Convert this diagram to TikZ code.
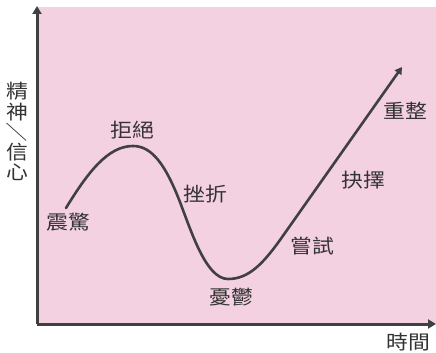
\documentclass[tikz,border=0pt]{standalone}
\usepackage{fontspec}
\newfontfamily\cjk{Noto Sans CJK TC}
\usetikzlibrary{arrows.meta}
\definecolor{bgpink}{RGB}{243,209,225}
\definecolor{axisgray}{RGB}{64,64,64}
\definecolor{txtgray}{RGB}{51,51,51}
\tikzset{
  lbl/.style={text=txtgray, font=\cjk\fontsize{19.5}{19.5}\selectfont, inner sep=0pt, xscale=1.12},
  axisline/.style={draw=axisgray, line width=3pt, -{Triangle[width=9pt,length=8pt]}},
  curveline/.style={draw=axisgray, line width=2.6pt, line cap=round, -{Triangle[width=8pt,length=7pt]}}
}
\begin{document}
\begin{tikzpicture}[x=1pt,y=-1pt]
\useasboundingbox (0,0) rectangle (436,353);
\fill[bgpink] (37,7) rectangle (436,324);
\coordinate (o) at (37,324);
\coordinate (ytop) at (37,6);
\coordinate (xend) at (436,324);
\draw[axisline] (o) -- (ytop);
\draw[axisline] (o) -- (xend);
% curve
\coordinate (s) at (66,208);
\coordinate (peak) at (133,146);
\coordinate (m1) at (178,197);
\coordinate (trough) at (228,279);
\coordinate (m2) at (280,240);
\coordinate (tip) at (402,67);
\draw[curveline] (s) .. controls (88,172) and (108,146) .. (peak)
  .. controls (152,146) and (165,165) .. (m1)
  .. controls (190,227) and (205,279) .. (trough)
  .. controls (248,279) and (262,265) .. (m2) -- (tip);
% labels
\node[lbl] (l1) at (17,91) {精};
\node[lbl] (l2) at (17,112) {神};
\node[lbl, rotate=-90] (l3) at (17,132) {／};
\node[lbl] (l4) at (17,152) {信};
\node[lbl] (l5) at (17,172) {心};
\node[lbl] (shock) at (68,222) {震驚};
\node[lbl] (deny) at (132,130) {拒絕};
\node[lbl] (frus) at (205,194) {挫折};
\node[lbl] (depr) at (231,297) {憂鬱};
\node[lbl] (try) at (312,246) {嘗試};
\node[lbl] (choose) at (363,180) {抉擇};
\node[lbl] (reorg) at (405,111) {重整};
\node[lbl] (time) at (408,342) {時間};
\end{tikzpicture}
\end{document}
